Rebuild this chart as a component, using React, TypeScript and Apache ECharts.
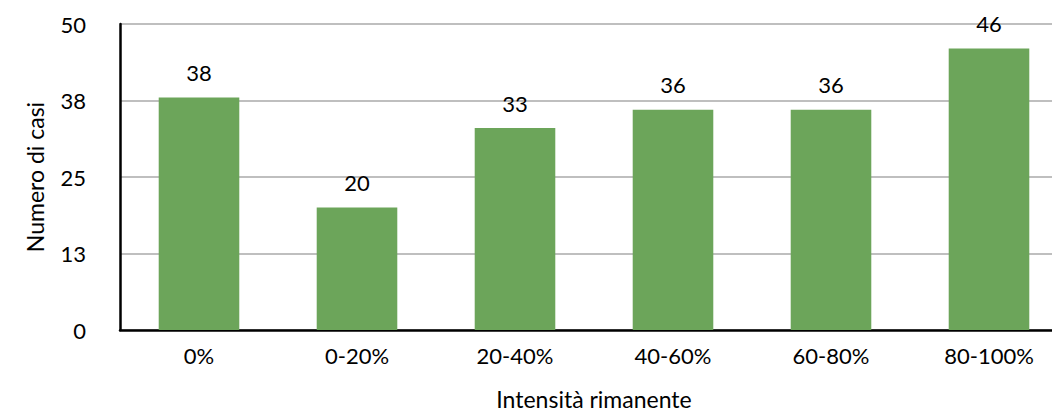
import React, { useEffect, useRef } from "react";
import * as echarts from "echarts";

const categories = ["0%", "0-20%", "20-40%", "40-60%", "60-80%", "80-100%"];
const values = [38, 20, 33, 36, 36, 46];
const yTicks = [0, 12.5, 25, 37.5, 50];

export default function App() {
  const ref = useRef<HTMLDivElement>(null);
  useEffect(() => {
    document.body.style.margin = "0";
    document.body.style.overflow = "hidden";
    const chart = echarts.init(ref.current!, null, { renderer: "svg" });
    const font = "Lato, 'Open Sans', sans-serif";
    chart.setOption({
      animation: false,
      textStyle: { fontFamily: font },
      grid: { left: 120, right: -16, top: 24, bottom: 82, outerBoundsMode: "none", containLabel: false },
      xAxis: {
        type: "category",
        data: categories,
        name: "Intensità rimanente",
        nameLocation: "middle",
        nameGap: 57,
        nameTextStyle: { fontSize: 23, color: "#000", fontFamily: font },
        axisLine: { lineStyle: { color: "#000", width: 2.5 } },
        axisTick: { show: false },
        axisLabel: { fontSize: 22, color: "#000", margin: 14, fontFamily: font },
      },
      yAxis: {
        type: "value",
        min: 0,
        max: 50,
        interval: yTicks[1],
        name: "Numero di casi",
        nameLocation: "middle",
        nameGap: 74,
        nameTextStyle: { fontSize: 23, color: "#000", fontFamily: font },
        axisLine: { show: true, lineStyle: { color: "#000", width: 2.5 } },
        axisTick: { show: false },
        axisLabel: {
          fontSize: 22,
          color: "#000",
          margin: 34,
          fontFamily: font,
          formatter: (v: number) => String(Math.round(v)),
        },
        splitLine: { lineStyle: { color: "#bfbfbf", width: 2 } },
      },
      series: [
        {
          type: "bar",
          data: values,
          barWidth: "51%",
          itemStyle: { color: "#6ca55a" },
          label: {
            show: true,
            position: "top",
            distance: 14,
            fontSize: 22,
            color: "#000",
            fontFamily: font,
          },
        },
      ],
    });
    return () => chart.dispose();
  }, []);
  return <div ref={ref} style={{ width: 1052, height: 412 }} />;
}
